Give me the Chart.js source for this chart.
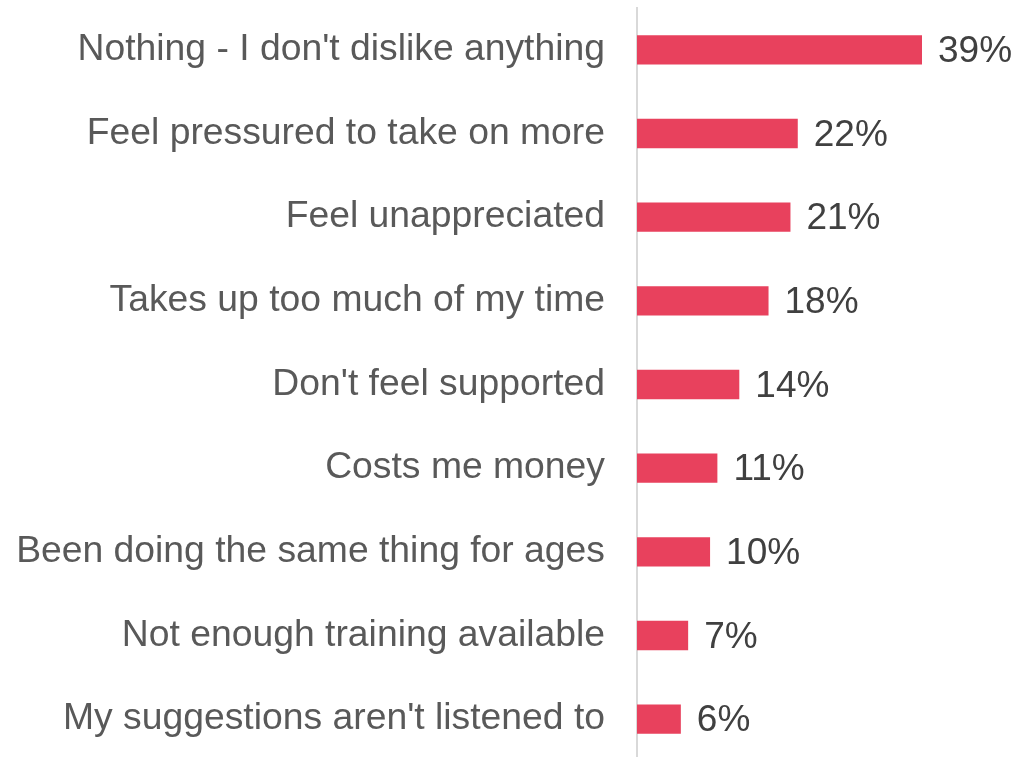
<!DOCTYPE html>
<html>
<head>
<meta charset="utf-8">
<script src="https://cdn.jsdelivr.net/npm/chart.js@4/dist/chart.umd.min.js"></script>
<style>
  html, body { margin: 0; padding: 0; background: #ffffff; overflow: hidden; }
  #wrap { position: relative; width: 1017px; height: 761px; }
</style>
</head>
<body>
<div id="wrap"><canvas id="chart"></canvas></div>
<script>
// Survey responses: what people dislike about their role
const categories = [
  "Nothing - I don't dislike anything",
  "Feel pressured to take on more",
  "Feel unappreciated",
  "Takes up too much of my time",
  "Don't feel supported",
  "Costs me money",
  "Been doing the same thing for ages",
  "Not enough training available",
  "My suggestions aren't listened to"
];
const shares = [39, 22, 21, 18, 14, 11, 10, 7, 6];

const FONT = "'Liberation Sans', Arial, sans-serif";

// Writes the percentage just past the end of each bar
const valueLabels = {
  id: 'valueLabels',
  afterDatasetsDraw(chart) {
    const ctx = chart.ctx;
    const meta = chart.getDatasetMeta(0);
    ctx.save();
    ctx.font = '37px ' + FONT;
    ctx.fillStyle = '#404040';
    ctx.textAlign = 'left';
    ctx.textBaseline = 'middle';
    meta.data.forEach((bar, i) => {
      ctx.fillText(shares[i] + '%', bar.x + 16, bar.y + 2);
    });
    ctx.restore();
  }
};

new Chart(document.getElementById('chart'), {
  type: 'bar',
  data: {
    labels: categories,
    datasets: [{
      data: shares,
      backgroundColor: '#E8415D',
      borderWidth: 0,
      categoryPercentage: 1,
      barPercentage: 0.35
    }]
  },
  options: {
    indexAxis: 'y',
    responsive: true,
    maintainAspectRatio: false,
    animation: false,
    layout: { padding: { top: 8, right: 0, bottom: 0, left: 0 } },
    plugins: { legend: { display: false }, tooltip: { enabled: false } },
    scales: {
      x: {
        display: false,
        min: 0,
        max: 52
      },
      y: {
        afterFit(scale) {
          scale.width = 637;
          scale.paddingTop = 0;
          scale.paddingBottom = 0;
        },
        grid: { display: false, drawTicks: false },
        border: { display: true, color: '#d9d9d9', width: 2 },
        ticks: {
          color: '#595959',
          padding: 32,
          font: { family: FONT, size: 37.3 }
        }
      }
    }
  },
  plugins: [valueLabels]
});
</script>
</body>
</html>
